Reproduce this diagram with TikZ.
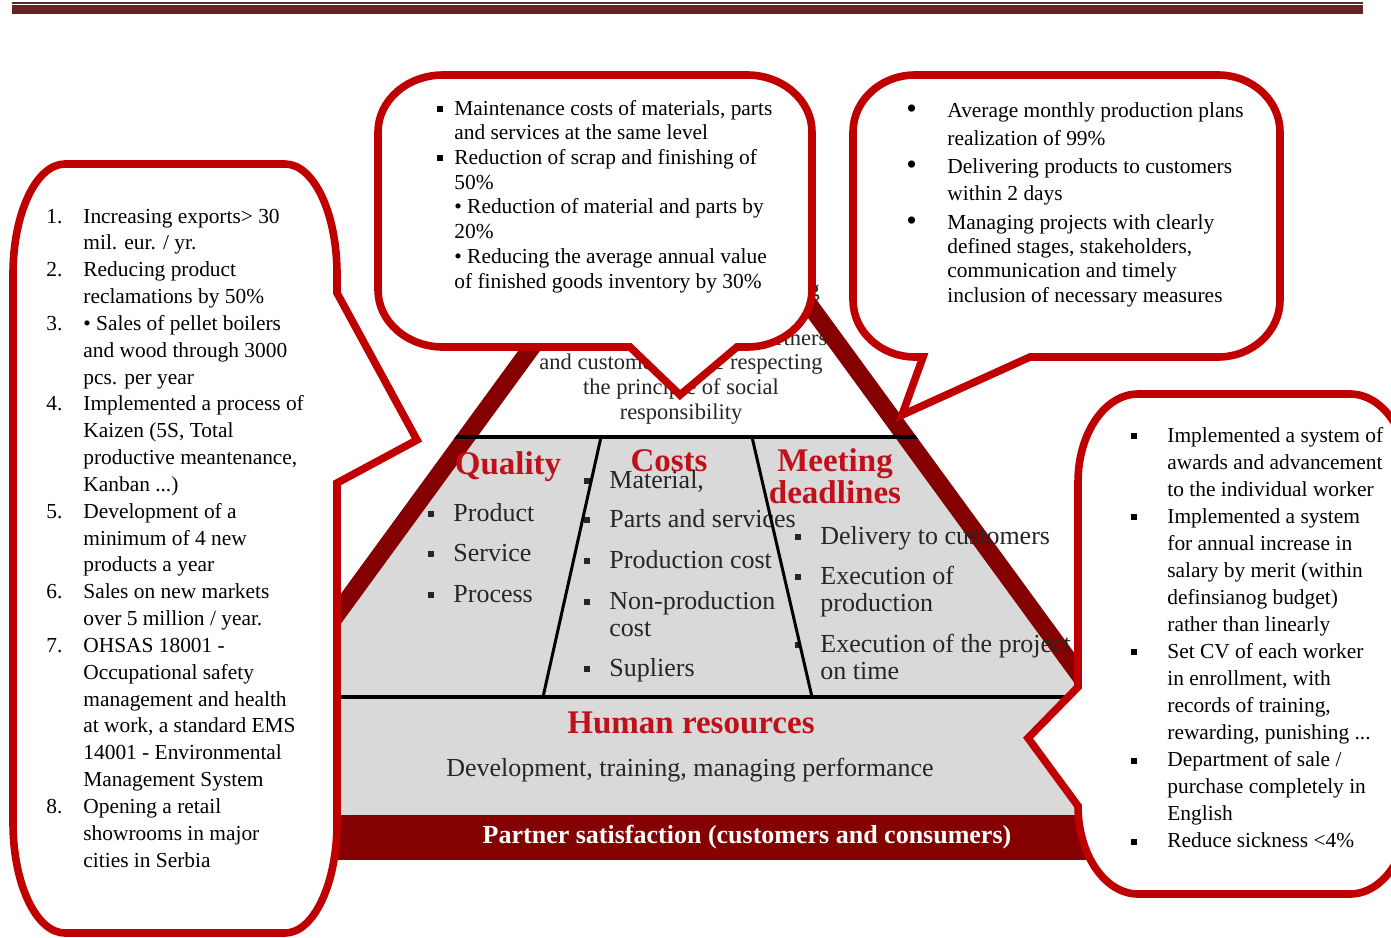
\documentclass[tikz,border=0pt]{standalone}
\usepackage{fontspec}
\setmainfont{Liberation Serif}

\definecolor{barred}{HTML}{632523}
\definecolor{calloutred}{HTML}{C00000}
\definecolor{bandred}{HTML}{850000}
\definecolor{headred}{HTML}{C0101A}
\definecolor{pyrgray}{HTML}{D9D9D9}
\definecolor{pyrtext}{HTML}{262626}

% small square bullets, big round bullet
\newcommand\sqb{\rule[1.5pt]{3pt}{3pt}}
\newcommand\psq{\rule[1.9pt]{3.2pt}{3.2pt}}
\newcommand\rdb{\raisebox{-0.6pt}{\fontsize{15pt}{12pt}\selectfont\textbullet}}
\newcommand\callfont[1]{\fontsize{10.7pt}{#1}\selectfont}
\newcommand\pyrfont{\fontsize{13pt}{13.5pt}\selectfont}
\newcommand\headfont{\fontsize{16.5pt}{16pt}\selectfont\bfseries}
\newcommand\rows[1]{\begin{tabular}[t]{@{}l@{}}#1\end{tabular}}

\tikzset{
  callout/.style={draw=calloutred, line width=3.8pt, fill=white},
  ctext/.style={anchor=base west, inner sep=0pt},
  head/.style={inner sep=0pt, text=headred, font=\headfont},
  pitem/.style={anchor=base west, inner sep=0pt, text=pyrtext, font=\pyrfont},
  divider/.style={line width=1.5pt, black},
}

\begin{document}
\begin{tikzpicture}[x=0.5pt, y=-0.5pt]

    \useasboundingbox (0,0) rectangle (1391,937);
    \clip (0,0) rectangle (1391,937);

    % header rule
    \fill[barred] (12,2) rectangle (1363,3.8);
    \fill[barred] (12,5.2) rectangle (1363,14);

    % Pyramid: red sides, white top, grey body, red base
    \begin{scope}
        \clip (686,121) -- (1225.5,860) -- (146.5,860) -- cycle;
        \fill[bandred] (100,100) rectangle (1300,860);
        \begin{scope}
            \clip (686,151.1) -- (1170.6,815) -- (201.4,815) -- cycle;
            \fill[white] (100,100) rectangle (1300,437);
            \fill[pyrgray] (100,437) rectangle (1300,815);
        \end{scope}
        \draw[line width=1.6pt] (100,437) -- (1300,437);
        \draw[line width=1.6pt] (100,697) -- (1300,697);
    \end{scope}

    % top of the pyramid
    \node[anchor=base, inner sep=0pt, text=pyrtext,
          font={\fontsize{11.25pt}{12.3pt}\selectfont}] (mission) at (681,296)
        {\begin{tabular}[t]{@{}c@{}}Establishing and strengthening\\
         long-term relationships\\with suppliers, business partners\\
         and customers while respecting\\the principle of social\\
         responsibility\end{tabular}};

    % Quality column
    \node[head] (quality) at (508,467) {Quality};
    \foreach \y/\t [count=\i] in {521/Product, 561/Service, 602/Process}
        \node[pitem] (q\i) at (453,\y) {\llap{\psq\hspace{9.5pt}}\t};

    % Costs column
    \node[head] (costs) at (669,461) {Costs};
    \node[pitem] (c1) at (609,488) {\llap{\psq\hspace{9.5pt}}Material,};
    \node[pitem] (c2) at (609,527) {\llap{\psq\hspace{9.5pt}}Parts and services};
    \node[pitem] (c3) at (609,568) {\llap{\psq\hspace{9.5pt}}Production cost};
    \node[pitem] (c4) at (609,609) {\llap{\psq\hspace{9.5pt}}\rows{Non-production\\cost}};
    \node[pitem] (c5) at (609,676) {\llap{\psq\hspace{9.5pt}}Supliers};

    % Deadlines column
    \node[head, align=center] (deadlines) at (835,476) {Meeting\\deadlines};
    \node[pitem] (d1) at (820,544) {\llap{\psq\hspace{9.5pt}}Delivery to customers};
    \node[pitem] (d2) at (820,584) {\llap{\psq\hspace{9.5pt}}\rows{Execution of\\production}};
    \node[pitem] (d3) at (820,652) {\llap{\psq\hspace{9.5pt}}\rows{Execution of the project\\on time}};

    \draw[divider] (601,437) -- (543,697);
    \draw[divider] (752,437) -- (812,697);

    % base layers
    \node[head] (hr) at (691,723) {Human resources};
    \node[inner sep=0pt, text=pyrtext, font=\pyrfont] (hrtext) at (690,770)
        {Development, training, managing performance};
    \node[inner sep=0pt, text=white, font=\pyrfont\bfseries] (partner) at (747,837)
        {Partner satisfaction (customers and consumers)};

    % Callout: general goals
    \draw[callout] (65,164) -- (285,164) .. controls (313.7,164) and (337,213.3) .. (337,274)
        -- (337,293) -- (417,440) -- (337,483)
        -- (337,823) .. controls (337,883.7) and (313.7,933) .. (285,933)
        -- (65,933) .. controls (36.3,933) and (13,883.7) .. (13,823)
        -- (13,274) .. controls (13,213.3) and (36.3,164) .. (65,164) -- cycle;
    \node[ctext, font=\callfont{13.42pt}] (goals) at (46,223)
        {\begin{tabular}[t]{@{}p{18.5pt}@{}l@{}}
        1. & Increasing exports> 30\\
           & mil. eur. / yr.\\
        2. & Reducing product\\
           & reclamations by 50\%\\
        3. & \textbullet{} Sales of pellet boilers\\
           & and wood through 3000\\
           & pcs. per year\\
        4. & Implemented a process of\\
           & Kaizen (5S, Total\\
           & productive meantenance,\\
           & Kanban ...)\\
        5. & Development of a\\
           & minimum of 4 new\\
           & products a year\\
        6. & Sales on new markets\\
           & over 5 million / year.\\
        7. & OHSAS 18001 -\\
           & Occupational safety\\
           & management and health\\
           & at work, a standard EMS\\
           & 14001 - Environmental\\
           & Management System\\
        8. & Opening a retail\\
           & showrooms in major\\
           & cities in Serbia
        \end{tabular}};

    % Callout: costs
    \draw[callout] (443,75) -- (747,75) .. controls (782.9,75) and (812,100.5) .. (812,132)
        -- (812,290) .. controls (812,321.5) and (782.9,347) .. (747,347)
        -- (737,347) -- (680,395) -- (630,347)
        -- (443,347) .. controls (407.1,347) and (378,321.5) .. (378,290)
        -- (378,132) .. controls (378,100.5) and (407.1,75) .. (443,75) -- cycle;
    \node[ctext, font=\callfont{12.36pt}] (costgoals) at (437,115)
        {\begin{tabular}[t]{@{}p{8.5pt}@{}l@{}}
        \sqb & Maintenance costs of materials, parts\\
             & and services at the same level\\
        \sqb & Reduction of scrap and finishing of\\
             & 50\%\\
             & \textbullet{} Reduction of material and parts by\\
             & 20\%\\
             & \textbullet{} Reducing the average annual value\\
             & of finished goods inventory by 30\%
        \end{tabular}};

    % Callout: deadlines
    \draw[callout] (915,75) -- (1218,75) .. controls (1252.2,75) and (1280,100.5) .. (1280,132)
        -- (1280,300) .. controls (1280,331.5) and (1252.2,357) .. (1218,357)
        -- (1030,357) -- (902,415) -- (923,357)
        -- (915,357) .. controls (880.8,357) and (853,331.5) .. (853,300)
        -- (853,132) .. controls (853,100.5) and (880.8,75) .. (915,75) -- cycle;
    \node[ctext, font=\callfont{12.2pt}] (deadlinegoals) at (906,117)
        {\begin{tabular}[t]{@{}p{20.5pt}@{}l@{}}
        \rdb & Average monthly production plans\\[1.8pt]
             & realization of 99\%\\[1.8pt]
        \rdb & Delivering products to customers\\[1.3pt]
             & within 2 days\\[2.3pt]
        \rdb & Managing projects with clearly\\
             & defined stages, stakeholders,\\
             & communication and timely\\
             & inclusion of necessary measures
        \end{tabular}};

    % Callout: human resources
    \draw[callout] (1138,394) -- (1350,394) .. controls (1383.1,394) and (1410,433.4) .. (1410,482)
        -- (1410,806) .. controls (1410,854.6) and (1383.1,894) .. (1350,894)
        -- (1138,894) .. controls (1104.9,894) and (1078,854.6) .. (1078,806)
        -- (1028,738) -- (1078,687)
        -- (1078,482) .. controls (1078,433.4) and (1104.9,394) .. (1138,394) -- cycle;
    \node[ctext, font=\callfont{13.53pt}] (hrgoals) at (1131,442)
        {\begin{tabular}[t]{@{}p{18pt}@{}l@{}}
        \sqb & Implemented a system of\\
             & awards and advancement\\
             & to the individual worker\\
        \sqb & Implemented a system\\
             & for annual increase in\\
             & salary by merit (within\\
             & definsianog budget)\\
             & rather than linearly\\
        \sqb & Set CV of each worker\\
             & in enrollment, with\\
             & records of training,\\
             & rewarding, punishing ...\\
        \sqb & Department of sale /\\
             & purchase completely in\\
             & English\\
        \sqb & Reduce sickness <4\%
        \end{tabular}};

\end{tikzpicture}
\end{document}
